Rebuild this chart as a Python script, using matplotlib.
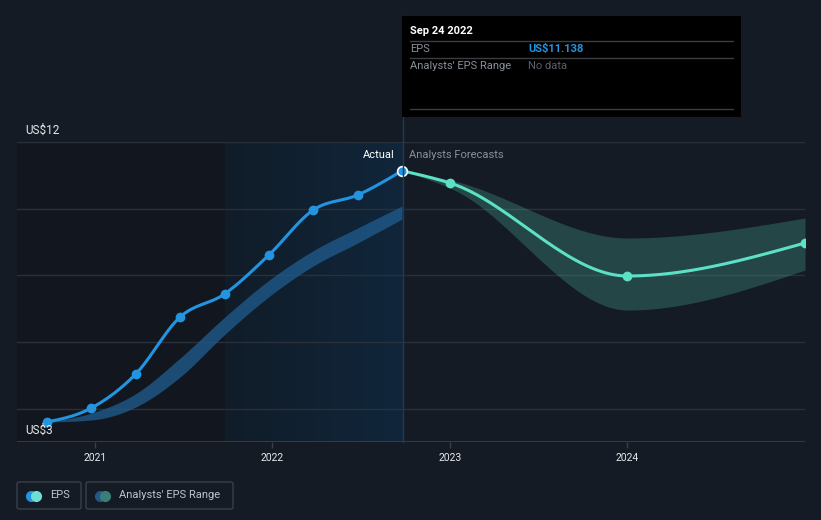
import numpy as np
import matplotlib.pyplot as plt
from matplotlib.colors import LinearSegmentedColormap
from matplotlib.patches import FancyBboxPatch, Rectangle

# data (fractional years, US$ EPS)
eps_x = [2020.73, 2020.98, 2021.23, 2021.48, 2021.73, 2021.98, 2022.23, 2022.48, 2022.73]
eps_y = [3.60, 4.02, 5.04, 6.75, 7.44, 8.61, 9.96, 10.41, 11.138]
hist_low = [3.60, 3.66, 4.05, 4.95, 6.22, 7.36, 8.28, 8.97, 9.69]
hist_high = [3.60, 3.87, 4.45, 5.52, 6.74, 7.85, 8.74, 9.42, 10.08]

fc_x = [2022.73, 2023.0, 2024.0, 2025.0]
fc_y = [11.138, 10.77, 7.98, 8.97]
fc_low = [11.138, 10.62, 6.96, 8.16]
fc_high = [11.138, 10.86, 9.12, 9.72]

years = [2021, 2022, 2023, 2024]
y_ticks = [3, 12]
grid_vals = [4, 6, 8, 10, 12]

BG = '#151b24'
BLUE = '#2394df'
TEAL = '#5ce0c6'


def monotone(x, y, n=300):
    # d3 curveMonotoneX style interpolation
    x = np.asarray(x, float)
    y = np.asarray(y, float)
    h = np.diff(x)
    s = np.diff(y) / h
    m = np.zeros_like(y)
    for k in range(1, len(y) - 1):
        p = (s[k - 1] * h[k] + s[k] * h[k - 1]) / (h[k - 1] + h[k])
        m[k] = (np.sign(s[k - 1]) + np.sign(s[k])) * min(abs(s[k - 1]), abs(s[k]), 0.5 * abs(p))
    m[0] = (3 * s[0] - m[1]) / 2 if len(y) > 2 else s[0]
    m[-1] = (3 * s[-1] - m[-2]) / 2 if len(y) > 2 else s[-1]
    xs = np.linspace(x[0], x[-1], n)
    idx = np.clip(np.searchsorted(x, xs, side='right') - 1, 0, len(h) - 1)
    t = (xs - x[idx]) / h[idx]
    h00 = 2 * t**3 - 3 * t**2 + 1
    h10 = t**3 - 2 * t**2 + t
    h01 = -2 * t**3 + 3 * t**2
    h11 = t**3 - t**2
    ys = h00 * y[idx] + h10 * h[idx] * m[idx] + h01 * y[idx + 1] + h11 * h[idx] * m[idx + 1]
    return xs, ys


W, H = 821, 520
fig = plt.figure(figsize=(W / 100, H / 100), dpi=100, facecolor=BG)
plt.rcParams['font.family'] = ['Roboto', 'DejaVu Sans']

x0_px, x1_px = 17, 805
y_top, y_bot = 142, 442
ax = fig.add_axes([x0_px / W, 1 - y_bot / H, (x1_px - x0_px) / W, (y_bot - y_top) / H])
ax.set_facecolor(BG)
xmin, xmax = 2020.561, 2025.0
for s in ax.spines.values():
    s.set_visible(False)

# background regions
ax.axvspan(xmin, 2021.73, color='#12171f', zorder=0, lw=0)
grad = LinearSegmentedColormap.from_list('g', ['#111c28', '#10263b'])
ax.imshow(np.linspace(0, 1, 100).reshape(1, -1), cmap=grad, aspect='auto',
          extent=[2021.73, 2022.73, 3, 12], zorder=0.5)
ax.set_xlim(xmin, xmax)
ax.set_ylim(3, 12)

for g in grid_vals:
    ax.axhline(g, color='#2a303a', lw=1, zorder=1)
ax.axhline(3, color='#3a404a', lw=1.2, zorder=1)

# bands
bx, bl = monotone(eps_x, hist_low)
_, bh = monotone(eps_x, hist_high)
ax.fill_between(bx, bl, bh, color='#1f5a8c', alpha=0.78, lw=0, zorder=2)
fx, fl = monotone(fc_x, fc_low)
_, fh = monotone(fc_x, fc_high)
ax.fill_between(fx, fl, fh, color=TEAL, alpha=0.22, lw=0, zorder=2)

# lines
lx, ly = monotone(eps_x, eps_y)
ax.plot(lx, ly, color=BLUE, lw=2.2, zorder=3, solid_capstyle='round')
ax.plot(eps_x[:-1], eps_y[:-1], 'o', color=BLUE, ms=6, zorder=4)
flx, fly = monotone(fc_x, fc_y)
ax.plot(flx, fly, color=TEAL, lw=2.2, zorder=3, solid_capstyle='round')
ax.plot(fc_x[1:], fc_y[1:], 'o', color=TEAL, ms=6, zorder=4, clip_on=True)
ax.plot(eps_x[-1], eps_y[-1], 'o', color=BLUE, mec='white', mew=1.2, ms=7, zorder=5, clip_on=False)

# x ticks
ax.set_xticks(years)
ax.set_xticklabels([str(y) for y in years])
ax.tick_params(axis='x', colors='#3a404a', length=4, width=1, pad=4, labelcolor='#e6e8eb', labelsize=7.5)
ax.set_yticks([])

# y labels
for v in y_ticks:
    py = y_bot - (v - 3) / 9 * (y_bot - y_top)
    fig.text(25 / W, 1 - (py - 12) / H, 'US$%d' % v, color='#e6e8eb', fontsize=8.5,
             ha='left', va='center')

ax.text(2022.73 - 0.04, 11.62, 'Actual', color='white', fontsize=8, ha='right', va='center')
ax.text(2022.73 + 0.04, 11.62, 'Analysts Forecasts', color='#8a8f98', fontsize=8, ha='left', va='center')

# vertical marker line
vx = (402 + 0.5) / W
fig.add_artist(plt.Line2D([vx, vx], [1 - 442 / H, 1 - 16 / H], color='#1f3a55', lw=1, zorder=1))

# tooltip
fig.add_artist(Rectangle((402 / W, 1 - 117 / H), 339 / W, 101 / H, transform=fig.transFigure,
                         facecolor='black', edgecolor='none', zorder=5))
for yy in [41, 58, 109]:
    fig.add_artist(plt.Line2D([410 / W, 733 / W], [1 - yy / H] * 2, color='#3a3d42', lw=1, zorder=6))
fig.text(410 / W, 1 - 31 / H, 'Sep 24 2022', color='white', fontsize=8, fontweight='bold', va='center', zorder=7)
fig.text(410 / W, 1 - 49 / H, 'EPS', color='#8a8f98', fontsize=8, va='center', zorder=7)
fig.text(528 / W, 1 - 49 / H, 'US$11.138', color=BLUE, fontsize=8, fontweight='bold', va='center', zorder=7)
fig.text(410 / W, 1 - 66 / H, "Analysts' EPS Range", color='#8a8f98', fontsize=8, va='center', zorder=7)
fig.text(528 / W, 1 - 66 / H, 'No data', color='#5c6068', fontsize=8, va='center', zorder=7)

# legend
def legend_box(x, w, c1, c2, label):
    fig.add_artist(FancyBboxPatch((x / W, 1 - 509 / H), w / W, 27 / H, transform=fig.transFigure,
                                  boxstyle='round,pad=0,rounding_size=0.003', facecolor='none',
                                  edgecolor='#3a3f48', lw=1))
    cy = 1 - 495.5 / H
    fig.add_artist(plt.Line2D([(x + 14) / W], [cy], marker='o', ms=7, color=c1, lw=0))
    fig.add_artist(plt.Line2D([(x + 19) / W], [cy], marker='o', ms=7, color=c2, lw=0))
    fig.text((x + 33) / W, cy, label, color='#c0c4ca', fontsize=8, va='center')

legend_box(17, 64, BLUE, '#6ee0d0', 'EPS')
legend_box(86, 147, '#1e5a85', '#3b7d78', "Analysts' EPS Range")

fig.savefig('out.png', dpi=100, facecolor=BG)
